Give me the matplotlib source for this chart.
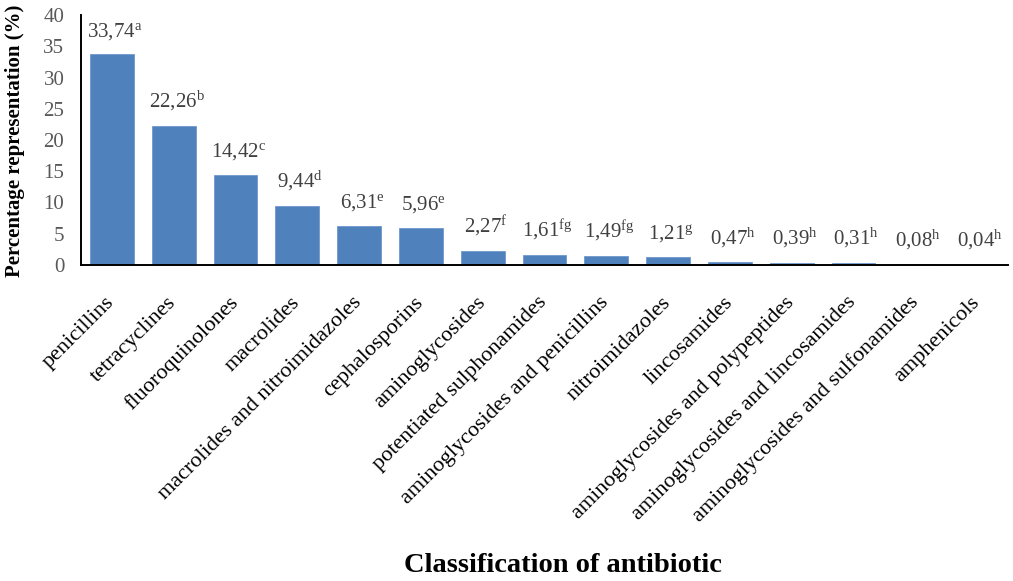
import matplotlib
matplotlib.use("Agg")
import matplotlib.pyplot as plt
import numpy as np

categories = [
    "penicillins",
    "tetracyclines",
    "fluoroquinolones",
    "macrolides",
    "macrolides and nitroimidazoles",
    "cephalosporins",
    "aminoglycosides",
    "potentiated sulphonamides",
    "aminoglycosides and penicillins",
    "nitroimidazoles",
    "lincosamides",
    "aminoglycosides and polypeptides",
    "aminoglycosides and lincosamides",
    "aminoglycosides and sulfonamides",
    "amphenicols",
]
percent = [33.74, 22.26, 14.42, 9.44, 6.31, 5.96, 2.27, 1.61, 1.49, 1.21,
           0.47, 0.39, 0.31, 0.08, 0.04]
letters = ["a", "b", "c", "d", "e", "e", "f", "fg", "fg", "g",
           "h", "h", "h", "h", "h"]
y_ticks = [0, 5, 10, 15, 20, 25, 30, 35, 40]

plt.rcParams["font.family"] = ["Liberation Serif", "DejaVu Serif"]
plt.rcParams["mathtext.fontset"] = "custom"
plt.rcParams["mathtext.rm"] = "Liberation Serif"
plt.rcParams["mathtext.it"] = "Liberation Serif:italic"
plt.rcParams["mathtext.bf"] = "Liberation Serif:bold"

fig = plt.figure(figsize=(10.13, 5.81), dpi=100)
ax = fig.add_axes([0.080, 0.544, 0.915, 0.430])

x = np.arange(len(categories))
ax.bar(x, percent, width=0.71, color="#4F81BD", edgecolor="#6f98cc", linewidth=0.6)

# value + significance letter above each bar
for xi, val, let in zip(x, percent, letters):
    label = f"{val:.2f}".replace(".", ",") + r"$^{\mathrm{" + let + "}}$"
    ax.annotate(label, (xi, val), xytext=(2, 9), textcoords="offset points",
                ha="center", va="bottom", fontsize=15, color="#404040")

ax.set_xlim(-0.5, len(categories) - 0.5)
ax.set_ylim(0, 40)
ax.set_yticks(y_ticks)
ax.set_yticklabels([str(t) for t in y_ticks], fontsize=15, color="#595959")
ax.set_xticks(x)
ax.set_xticklabels(categories, rotation=45, ha="right", va="center",
                   rotation_mode="anchor", fontsize=16, color="black")
ax.tick_params(axis="both", length=0)
ax.tick_params(axis="x", pad=25)
ax.tick_params(axis="y", pad=12)

for side in ["top", "right"]:
    ax.spines[side].set_visible(False)
ax.spines["left"].set_linewidth(1.4)
ax.spines["bottom"].set_linewidth(1.4)

fig.text(0.015, 1 - 141 / 581, "Percentage representation (%)", rotation=90,
         ha="center", va="center", fontsize=15, fontweight="bold")

fig.text(0.556, 0.026, "Classification of antibiotic", ha="center", va="center",
         fontsize=20.5, fontweight="bold")

fig.savefig("out.png", dpi=100)
